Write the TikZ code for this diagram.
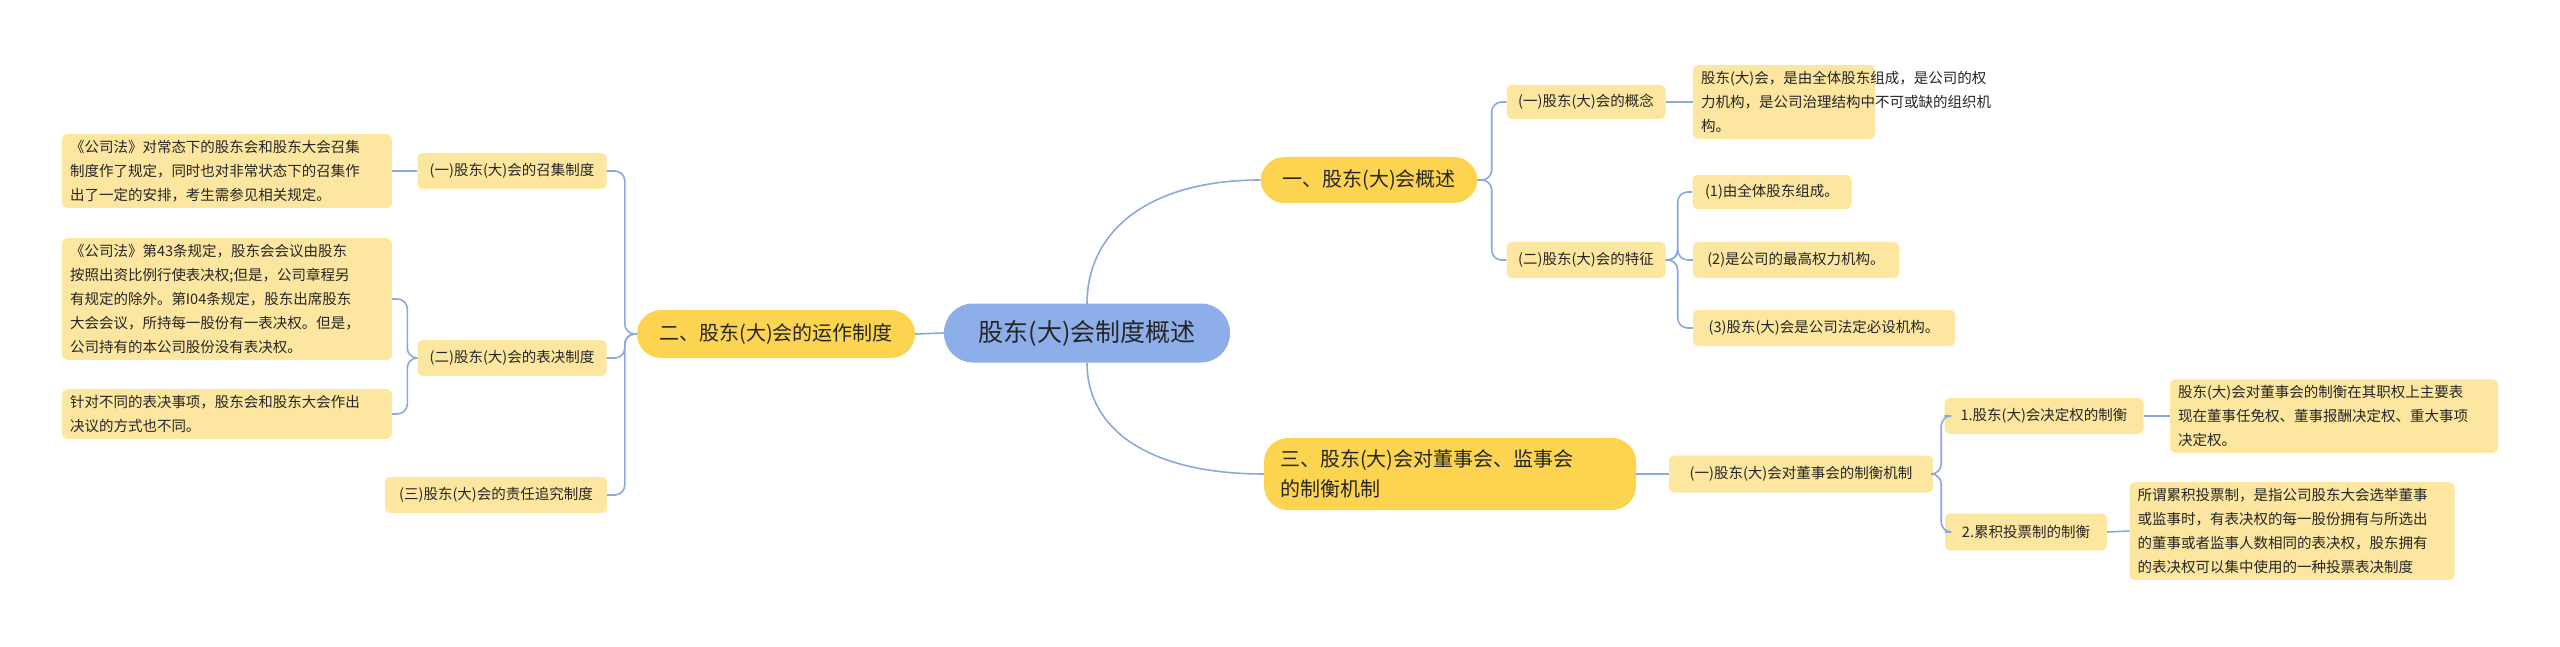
\documentclass[tikz,border=0pt]{standalone}
\usepackage{fontspec}
\setmainfont{Noto Sans CJK SC}
\begin{document}
\begin{tikzpicture}[x=1pt,y=-1pt,
  leaf/.style={fill=leafc,rounded corners=5pt,inner xsep=8pt,inner ysep=6pt,font=\fontsize{14.5}{24}\selectfont,text=black!85,align=left},
  lvl/.style={fill=goldc,rounded corners=24pt,inner xsep=16pt,inner ysep=10pt,font=\fontsize{20}{30}\selectfont,text=black!85,align=left},
  conn/.style={draw=linec,line width=1.6pt,rounded corners=10pt}]
\definecolor{leafc}{HTML}{FDE6A0}
\definecolor{goldc}{HTML}{FDD44F}
\definecolor{rootc}{HTML}{8EAEE9}
\definecolor{linec}{HTML}{8AA9DE}
\useasboundingbox (0,0) rectangle (2560,647);
\fill[white] (0,0) rectangle (2560,647);
% root
\node[fill=rootc,rounded corners=29pt,minimum width=286pt,minimum height=59pt,font=\fontsize{25}{30}\selectfont,text=black!85] (root) at (1087,333) {股东(大)会制度概述};
% level 1
\node[lvl,minimum width=278pt,minimum height=48pt] (two) at (776,334) {二、股东(大)会的运作制度};
\node[lvl,minimum width=217pt,minimum height=46pt] (one) at (1369,180) {一、股东(大)会概述};
\node[lvl,text width=340pt,minimum height=72pt,inner ysep=8pt] (three) at (1450,474) {三、股东(大)会对董事会、监事会\\的制衡机制};
% left
\node[leaf,minimum width=189pt,minimum height=36pt] (l1) at (512,171) {(一)股东(大)会的召集制度};
\node[leaf,minimum width=189pt,minimum height=36pt] (l2) at (512,358) {(二)股东(大)会的表决制度};
\node[leaf,minimum width=222pt,minimum height=36pt] (l3) at (496,495) {(三)股东(大)会的责任追究制度};
\node[leaf,text width=314pt] (d1) at (227,171) {《公司法》对常态下的股东会和股东大会召集\\制度作了规定，同时也对非常状态下的召集作\\出了一定的安排，考生需参见相关规定。};
\node[leaf,text width=314pt] (d2) at (227,299) {《公司法》第43条规定，股东会会议由股东\\按照出资比例行使表决权;但是，公司章程另\\有规定的除外。第I04条规定，股东出席股东\\大会会议，所持每一股份有一表决权。但是，\\公司持有的本公司股份没有表决权。};
\node[leaf,text width=314pt] (d3) at (227,414) {针对不同的表决事项，股东会和股东大会作出\\决议的方式也不同。};
% right top
\node[leaf,minimum width=159pt,minimum height=34pt] (r1) at (1586,102) {(一)股东(大)会的概念};
\node[leaf,minimum width=159pt,minimum height=36pt] (r2) at (1586,260) {(二)股东(大)会的特征};
\node[leaf,text width=166pt] (rd) at (1784,102) {股东(大)会，是由全体股东组成，是公司的权\\力机构，是公司治理结构中不可或缺的组织机\\构。};
\node[leaf,minimum width=159pt,minimum height=34pt] (f1) at (1772,192) {(1)由全体股东组成。};
\node[leaf,minimum width=206pt,minimum height=36pt] (f2) at (1796,260) {(2)是公司的最高权力机构。};
\node[leaf,minimum width=262pt,minimum height=36pt] (f3) at (1824,328) {(3)股东(大)会是公司法定必设机构。};
% right bottom
\node[leaf,minimum width=264pt,minimum height=37pt] (m) at (1801,474) {(一)股东(大)会对董事会的制衡机制};
\node[leaf,minimum width=199pt,minimum height=36pt] (m1) at (2044,416) {1.股东(大)会决定权的制衡};
\node[leaf,minimum width=162pt,minimum height=37pt] (m2) at (2026,532) {2.累积投票制的制衡};
\node[leaf,text width=312pt] (md1) at (2334,416) {股东(大)会对董事会的制衡在其职权上主要表\\现在董事任免权、董事报酬决定权、重大事项\\决定权。};
\node[leaf,text width=309pt] (md2) at (2292,531) {所谓累积投票制，是指公司股东大会选举董事\\或监事时，有表决权的每一股份拥有与所选出\\的董事或者监事人数相同的表决权，股东拥有\\的表决权可以集中使用的一种投票表决制度};
% connectors
\draw[conn] (root.west) -- (two.east);
\draw[draw=linec,line width=1.6pt] (1087,304) .. controls (1087,230) and (1150,180) .. (one.west);
\draw[draw=linec,line width=1.6pt] (1087,363) .. controls (1087,430) and (1150,474) .. (three.west);
\foreach \c in {l1,l2,l3}{\draw[conn] (two.west) -- ++(-12,0) |- (\c.east);}
\foreach \c in {d2,d3}{\draw[conn] (l2.west) -- ++(-10,0) |- (\c.east);}
\draw[conn] (l1.west) -- (d1.east);
\foreach \c in {r1,r2}{\draw[conn] (one.east) -- ++(14,0) |- (\c.west);}
\draw[conn] (r1.east) -- (rd.west);
\foreach \c in {f1,f2,f3}{\draw[conn] (r2.east) -- ++(12,0) |- (\c.west);}
\draw[conn] (three.east) -- (m.west);
\foreach \c in {m1,m2}{\draw[conn] (m.east) -- ++(8,0) |- (\c.west);}
\draw[conn] (m1.east) -- (md1.west);
\draw[conn] (m2.east) -- (md2.west);
\end{tikzpicture}
\end{document}
